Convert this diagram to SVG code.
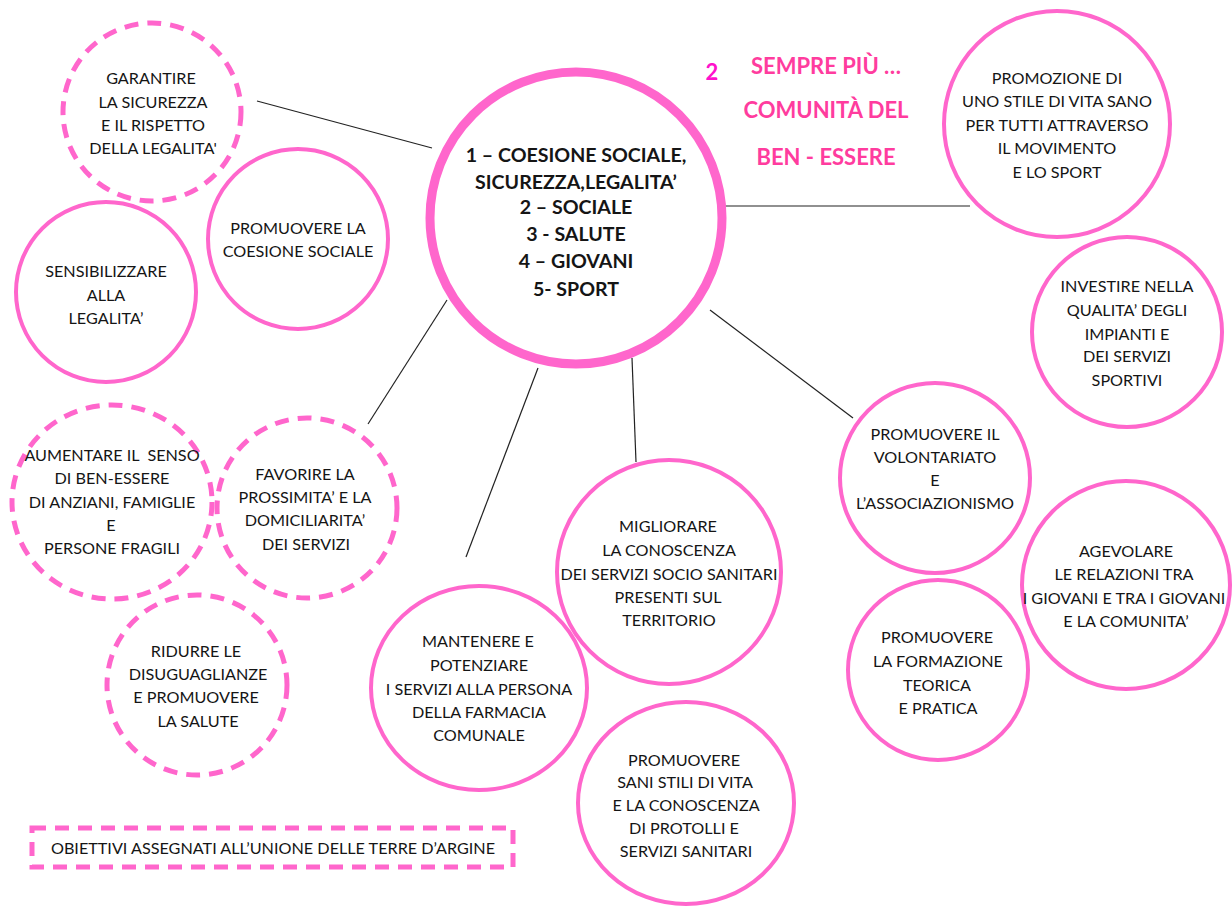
<svg xmlns="http://www.w3.org/2000/svg" width="1232" height="906" viewBox="0 0 1232 906">
<style>
.n{fill:none;stroke:#FF66CC;stroke-width:4}
.d{fill:none;stroke:#FF66CC;stroke-width:5;stroke-dasharray:14 9}
.t{font-family:Lato,"Open Sans","Liberation Sans",sans-serif;font-size:16.2px;fill:#151515;text-anchor:middle}
.c{font-family:Lato,"Open Sans","Liberation Sans",sans-serif;font-size:19.6px;font-weight:bold;fill:#151515;text-anchor:middle}
.h{font-family:Lato,"Open Sans","Liberation Sans",sans-serif;font-size:22px;font-weight:bold;fill:#FF3C9E;text-anchor:middle}
.e{stroke:#222;stroke-width:1.2;fill:none}
</style>
<rect width="1232" height="906" fill="#fff"/>
<g id="connectors">
<line class="e" x1="257" y1="101" x2="432" y2="148"/>
<line class="e" x1="447" y1="300" x2="368" y2="424"/>
<line class="e" x1="538" y1="368" x2="466" y2="557"/>
<line class="e" x1="632" y1="358" x2="636" y2="462"/>
<line class="e" x1="710" y1="310" x2="853" y2="418"/>
<line class="e" x1="725" y1="206" x2="970" y2="206"/>
</g>
<g id="title">
<text x="712" y="80" class="h" style="fill:#FF11CC">2</text>
<text x="826" y="74" class="h">SEMPRE PIÙ …</text>
<text x="826" y="118" class="h">COMUNITÀ DEL</text>
<text x="826" y="165" class="h">BEN - ESSERE</text>
</g>
<g id="center">
<circle cx="576" cy="218" r="146" fill="none" stroke="#FF66CC" stroke-width="9"/>
<text class="c" x="576" y="162">1 – COESIONE SOCIALE,</text>
<text class="c" x="576" y="189">SICUREZZA,LEGALITA’</text>
<text class="c" x="576" y="214">2 – SOCIALE</text>
<text class="c" x="576" y="241">3 - SALUTE</text>
<text class="c" x="576" y="268">4 – GIOVANI</text>
<text class="c" x="576" y="296">5- SPORT</text>
</g>
<g id="garantire">
<circle class="d" cx="152" cy="112" r="89"/>
<text class="t" x="151" y="84">GARANTIRE</text>
<text class="t" x="153" y="108">LA SICUREZZA</text>
<text class="t" x="153" y="131">E IL RISPETTO</text>
<text class="t" x="153" y="154">DELLA LEGALITA'</text>
</g>
<g id="coesione">
<circle class="n" cx="298" cy="239" r="90"/>
<text class="t" x="298" y="234">PROMUOVERE LA</text>
<text class="t" x="298" y="257">COESIONE SOCIALE</text>
</g>
<g id="sensibilizzare">
<circle class="n" cx="106" cy="292" r="90"/>
<text class="t" x="106" y="277">SENSIBILIZZARE</text>
<text class="t" x="106" y="301">ALLA</text>
<text class="t" x="106" y="324">LEGALITA’</text>
</g>
<g id="promozione">
<circle class="n" cx="1057" cy="124" r="113"/>
<text class="t" x="1057" y="84">PROMOZIONE DI</text>
<text class="t" x="1057" y="107">UNO STILE DI VITA SANO</text>
<text class="t" x="1057" y="131">PER TUTTI ATTRAVERSO</text>
<text class="t" x="1057" y="154">IL MOVIMENTO</text>
<text class="t" x="1057" y="178">E LO SPORT</text>
</g>
<g id="investire">
<circle class="n" cx="1127" cy="332" r="95"/>
<text class="t" x="1127" y="292">INVESTIRE NELLA</text>
<text class="t" x="1127" y="316">QUALITA’ DEGLI</text>
<text class="t" x="1127" y="340">IMPIANTI E</text>
<text class="t" x="1127" y="362">DEI SERVIZI</text>
<text class="t" x="1127" y="386">SPORTIVI</text>
</g>
<g id="volontariato">
<circle class="n" cx="935" cy="478" r="95"/>
<text class="t" x="935" y="440">PROMUOVERE IL</text>
<text class="t" x="935" y="463">VOLONTARIATO</text>
<text class="t" x="935" y="486">E</text>
<text class="t" x="935" y="509">L’ASSOCIAZIONISMO</text>
</g>
<g id="agevolare">
<circle class="n" cx="1126" cy="585" r="104"/>
<text class="t" x="1126" y="557">AGEVOLARE</text>
<text class="t" x="1124" y="580">LE RELAZIONI TRA</text>
<text class="t" x="1124" y="604">I GIOVANI E TRA I GIOVANI</text>
<text class="t" x="1126" y="627">E LA COMUNITA’</text>
</g>
<g id="formazione">
<circle class="n" cx="938" cy="670" r="90"/>
<text class="t" x="937" y="643">PROMUOVERE</text>
<text class="t" x="938" y="667">LA FORMAZIONE</text>
<text class="t" x="937" y="691">TEORICA</text>
<text class="t" x="938" y="714">E PRATICA</text>
</g>
<g id="migliorare">
<circle class="n" cx="669" cy="572" r="112"/>
<text class="t" x="668" y="532">MIGLIORARE</text>
<text class="t" x="669" y="556">LA CONOSCENZA</text>
<text class="t" x="669" y="580">DEI SERVIZI SOCIO SANITARI</text>
<text class="t" x="668" y="603">PRESENTI SUL</text>
<text class="t" x="669" y="626">TERRITORIO</text>
</g>
<g id="mantenere">
<ellipse class="n" cx="479" cy="688" rx="108" ry="102"/>
<text class="t" x="478" y="647">MANTENERE E</text>
<text class="t" x="479" y="671">POTENZIARE</text>
<text class="t" x="479" y="695">I SERVIZI ALLA PERSONA</text>
<text class="t" x="479" y="718">DELLA FARMACIA</text>
<text class="t" x="479" y="741">COMUNALE</text>
</g>
<g id="sani">
<ellipse class="n" cx="686" cy="803" rx="108" ry="101"/>
<text class="t" x="684" y="766">PROMUOVERE</text>
<text class="t" x="685" y="788">SANI STILI DI VITA</text>
<text class="t" x="686" y="811">E LA CONOSCENZA</text>
<text class="t" x="684" y="834">DI PROTOLLI E</text>
<text class="t" x="686" y="857">SERVIZI SANITARI</text>
</g>
<g id="aumentare">
<ellipse class="d" cx="112" cy="502" rx="100" ry="97"/>
<text class="t" x="112" y="461" xml:space="preserve">AUMENTARE IL  SENSO</text>
<text class="t" x="112" y="484">DI BEN-ESSERE</text>
<text class="t" x="112" y="508">DI ANZIANI, FAMIGLIE</text>
<text class="t" x="111" y="531">E</text>
<text class="t" x="112" y="554">PERSONE FRAGILI</text>
</g>
<g id="favorire">
<circle class="d" cx="307" cy="508" r="90"/>
<text class="t" x="305" y="480">FAVORIRE LA</text>
<text class="t" x="305" y="503">PROSSIMITA’ E LA</text>
<text class="t" x="305" y="526">DOMICILIARITA’</text>
<text class="t" x="306" y="550">DEI SERVIZI</text>
</g>
<g id="ridurre">
<circle class="d" cx="197" cy="685" r="90"/>
<text class="t" x="196" y="657">RIDURRE LE</text>
<text class="t" x="198" y="680">DISUGUAGLIANZE</text>
<text class="t" x="196" y="703">E PROMUOVERE</text>
<text class="t" x="198" y="727">LA SALUTE</text>
</g>
<g id="legend">
<rect x="32" y="828" width="481" height="39" fill="none" stroke="#FF66CC" stroke-width="5" stroke-dasharray="14 9"/>
<text class="t" x="273" y="854">OBIETTIVI ASSEGNATI ALL’UNIONE DELLE TERRE D’ARGINE</text>
</g>
</svg>
